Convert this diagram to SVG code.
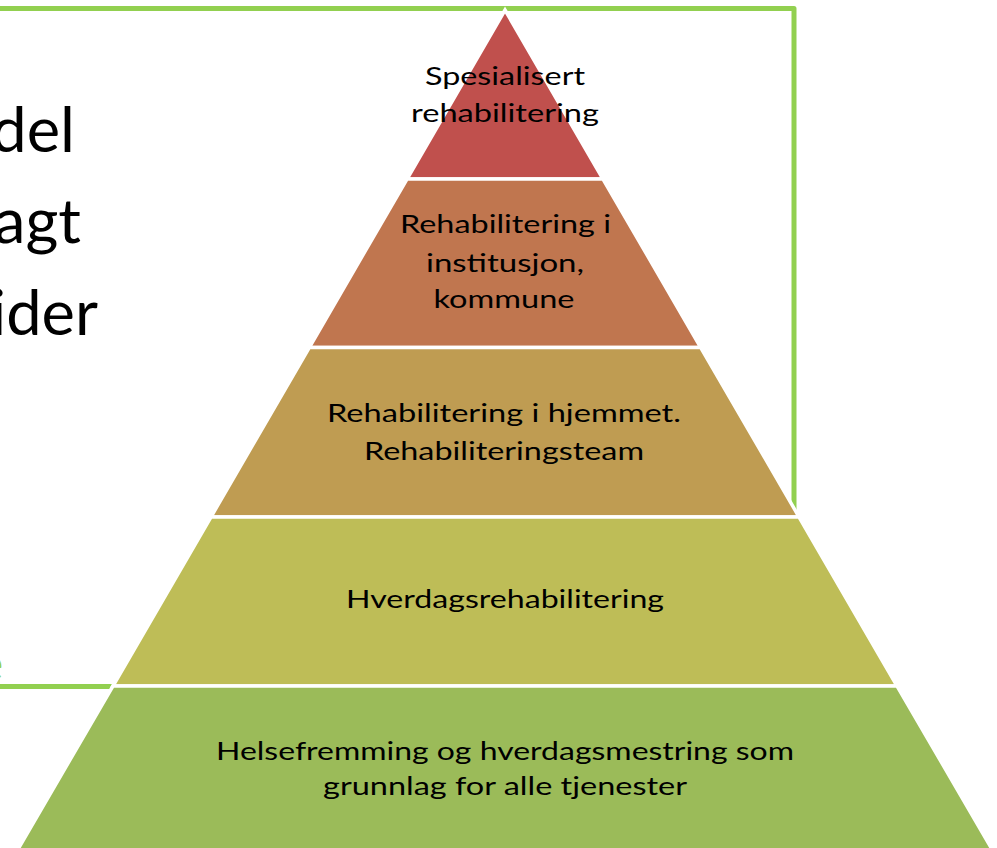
<svg xmlns="http://www.w3.org/2000/svg" width="997" height="848" viewBox="0 0 997 848">
<style>
.frame{fill:none;stroke:#92D050;stroke-width:5;stroke-linejoin:round}
.layer{stroke:#FFFFFF;stroke-width:3.5;stroke-linejoin:miter;stroke-miterlimit:10}
.lbl{font-family:Lato,"Open Sans","Liberation Sans",sans-serif;font-size:25px;fill:#000;text-anchor:middle}
.big{font-family:Lato,"Open Sans","Liberation Sans",sans-serif;font-size:62px;fill:#000;text-anchor:end}
</style>
<rect width="997" height="848" fill="#FFFFFF"/>
<g id="background-frame">
<path class="frame" d="M-10 8.5 H794 V686.5 H-10"/>
<text x="3" y="680" style="font-family:Lato,'Open Sans',sans-serif;font-size:46px;fill:#92D050;text-anchor:end">e</text>
</g>
<g id="left-text">
<text class="big" transform="translate(75,152) scale(1.02,1)" x="0" y="0">del</text>
<text class="big" transform="translate(81,243) scale(1.02,1)" x="0" y="0">agt</text>
<text class="big" transform="translate(98,335) scale(1.02,1)" x="0" y="0">ider</text>
</g>
<g id="layer1">
<polygon class="layer" fill="#C0504D" points="505,10 603,179 407,179"/>
<text class="lbl" x="505" y="85" textLength="160" lengthAdjust="spacingAndGlyphs">Spesialisert</text>
<text class="lbl" x="505" y="122" textLength="188" lengthAdjust="spacingAndGlyphs">rehabilitering</text>
</g>
<g id="layer2">
<polygon class="layer" fill="#C0764F" points="407,179 603,179 700.75,347.5 309.25,347.5"/>
<text class="lbl" x="505.5" y="233" textLength="211" lengthAdjust="spacingAndGlyphs">Rehabilitering i</text>
<text class="lbl" x="505" y="272" textLength="158" lengthAdjust="spacingAndGlyphs">institusjon,</text>
<text class="lbl" x="504" y="308" textLength="141" lengthAdjust="spacingAndGlyphs">kommune</text>
</g>
<g id="layer3">
<polygon class="layer" fill="#BF9C52" points="309.25,347.5 700.75,347.5 799.06,517 210.94,517"/>
<text class="lbl" x="504" y="422" textLength="354" lengthAdjust="spacingAndGlyphs">Rehabilitering i hjemmet.</text>
<text class="lbl" x="504" y="460" textLength="280" lengthAdjust="spacingAndGlyphs">Rehabiliteringsteam</text>
</g>
<g id="layer4">
<polygon class="layer" fill="#BEBD57" points="210.94,517 799.06,517 897.08,686 112.92,686"/>
<text class="lbl" x="505" y="608" textLength="318" lengthAdjust="spacingAndGlyphs">Hverdagsrehabilitering</text>
</g>
<g id="layer5">
<polygon class="layer" fill="#9BBB59" points="112.92,686 897.08,686 1000,863 10,863"/>
<text class="lbl" x="505" y="760" textLength="578" lengthAdjust="spacingAndGlyphs">Helsefremming og hverdagsmestring som</text>
<text class="lbl" x="505" y="795" textLength="364" lengthAdjust="spacingAndGlyphs">grunnlag for alle tjenester</text>
</g>
</svg>
